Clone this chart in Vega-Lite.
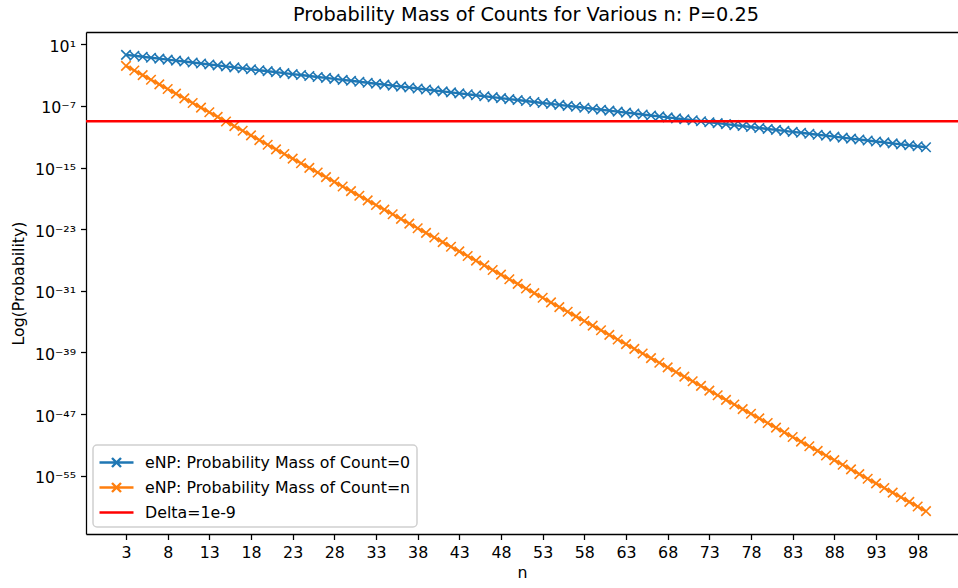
{
  "$schema": "https://vega.github.io/schema/vega-lite/v6.json",
  "width": 872,
  "height": 502,
  "autosize": {"type": "none"},
  "padding": {"left": 86, "top": 32, "right": 0, "bottom": 54},
  "background": "white",
  "title": {
    "text": "Probability Mass of Counts for Various n: P=0.25",
    "font": "DejaVu Sans",
    "fontSize": 19.3,
    "fontWeight": "normal",
    "color": "black",
    "baseline": "alphabetic",
    "offset": -8,
    "dx": 4
  },
  "datasets": {
    "main": [
      {"n":3,"Count=0":0.421875,"Count=n":0.015625},
      {"n":4,"Count=0":0.3164,"Count=n":0.00390625},
      {"n":5,"Count=0":0.2373,"Count=n":9.766e-4},
      {"n":6,"Count=0":0.178,"Count=n":2.441e-4},
      {"n":7,"Count=0":0.1335,"Count=n":6.104e-5},
      {"n":8,"Count=0":0.1001,"Count=n":1.526e-5},
      {"n":9,"Count=0":0.07508,"Count=n":3.815e-6},
      {"n":10,"Count=0":0.05631,"Count=n":9.537e-7},
      {"n":11,"Count=0":0.04224,"Count=n":2.384e-7},
      {"n":12,"Count=0":0.03168,"Count=n":5.96e-8},
      {"n":13,"Count=0":0.02376,"Count=n":1.49e-8},
      {"n":14,"Count=0":0.01782,"Count=n":3.725e-9},
      {"n":15,"Count=0":0.01336,"Count=n":9.313e-10},
      {"n":16,"Count=0":0.01002,"Count=n":2.328e-10},
      {"n":17,"Count=0":0.007517,"Count=n":5.821e-11},
      {"n":18,"Count=0":0.005638,"Count=n":1.455e-11},
      {"n":19,"Count=0":0.004228,"Count=n":3.638e-12},
      {"n":20,"Count=0":0.003171,"Count=n":9.095e-13},
      {"n":21,"Count=0":0.002378,"Count=n":2.274e-13},
      {"n":22,"Count=0":0.001784,"Count=n":5.684e-14},
      {"n":23,"Count=0":0.001338,"Count=n":1.421e-14},
      {"n":24,"Count=0":0.001003,"Count=n":3.553e-15},
      {"n":25,"Count=0":7.525e-4,"Count=n":8.882e-16},
      {"n":26,"Count=0":5.644e-4,"Count=n":2.22e-16},
      {"n":27,"Count=0":4.233e-4,"Count=n":5.551e-17},
      {"n":28,"Count=0":3.175e-4,"Count=n":1.388e-17},
      {"n":29,"Count=0":2.381e-4,"Count=n":3.469e-18},
      {"n":30,"Count=0":1.786e-4,"Count=n":8.674e-19},
      {"n":31,"Count=0":1.339e-4,"Count=n":2.168e-19},
      {"n":32,"Count=0":1.005e-4,"Count=n":5.421e-20},
      {"n":33,"Count=0":7.534e-5,"Count=n":1.355e-20},
      {"n":34,"Count=0":5.65e-5,"Count=n":3.388e-21},
      {"n":35,"Count=0":4.238e-5,"Count=n":8.47e-22},
      {"n":36,"Count=0":3.178e-5,"Count=n":2.118e-22},
      {"n":37,"Count=0":2.384e-5,"Count=n":5.294e-23},
      {"n":38,"Count=0":1.788e-5,"Count=n":1.323e-23},
      {"n":39,"Count=0":1.341e-5,"Count=n":3.309e-24},
      {"n":40,"Count=0":1.006e-5,"Count=n":8.272e-25},
      {"n":41,"Count=0":7.542e-6,"Count=n":2.068e-25},
      {"n":42,"Count=0":5.657e-6,"Count=n":5.17e-26},
      {"n":43,"Count=0":4.243e-6,"Count=n":1.292e-26},
      {"n":44,"Count=0":3.182e-6,"Count=n":3.231e-27},
      {"n":45,"Count=0":2.386e-6,"Count=n":8.078e-28},
      {"n":46,"Count=0":1.79e-6,"Count=n":2.019e-28},
      {"n":47,"Count=0":1.342e-6,"Count=n":5.049e-29},
      {"n":48,"Count=0":1.007e-6,"Count=n":1.262e-29},
      {"n":49,"Count=0":7.551e-7,"Count=n":3.155e-30},
      {"n":50,"Count=0":5.663e-7,"Count=n":7.889e-31},
      {"n":51,"Count=0":4.247e-7,"Count=n":1.972e-31},
      {"n":52,"Count=0":3.186e-7,"Count=n":4.93e-32},
      {"n":53,"Count=0":2.389e-7,"Count=n":1.233e-32},
      {"n":54,"Count=0":1.792e-7,"Count=n":3.081e-33},
      {"n":55,"Count=0":1.344e-7,"Count=n":7.704e-34},
      {"n":56,"Count=0":1.008e-7,"Count=n":1.926e-34},
      {"n":57,"Count=0":7.559e-8,"Count=n":4.815e-35},
      {"n":58,"Count=0":5.67e-8,"Count=n":1.204e-35},
      {"n":59,"Count=0":4.252e-8,"Count=n":3.009e-36},
      {"n":60,"Count=0":3.189e-8,"Count=n":7.523e-37},
      {"n":61,"Count=0":2.392e-8,"Count=n":1.881e-37},
      {"n":62,"Count=0":1.794e-8,"Count=n":4.702e-38},
      {"n":63,"Count=0":1.345e-8,"Count=n":1.175e-38},
      {"n":64,"Count=0":1.009e-8,"Count=n":2.939e-39},
      {"n":65,"Count=0":7.568e-9,"Count=n":7.347e-40},
      {"n":66,"Count=0":5.676e-9,"Count=n":1.837e-40},
      {"n":67,"Count=0":4.257e-9,"Count=n":4.592e-41},
      {"n":68,"Count=0":3.193e-9,"Count=n":1.148e-41},
      {"n":69,"Count=0":2.395e-9,"Count=n":2.87e-42},
      {"n":70,"Count=0":1.796e-9,"Count=n":7.175e-43},
      {"n":71,"Count=0":1.347e-9,"Count=n":1.794e-43},
      {"n":72,"Count=0":1.01e-9,"Count=n":4.484e-44},
      {"n":73,"Count=0":7.577e-10,"Count=n":1.121e-44},
      {"n":74,"Count=0":5.682e-10,"Count=n":2.803e-45},
      {"n":75,"Count=0":4.262e-10,"Count=n":7.006e-46},
      {"n":76,"Count=0":3.196e-10,"Count=n":1.752e-46},
      {"n":77,"Count=0":2.397e-10,"Count=n":4.379e-47},
      {"n":78,"Count=0":1.798e-10,"Count=n":1.095e-47},
      {"n":79,"Count=0":1.348e-10,"Count=n":2.737e-48},
      {"n":80,"Count=0":1.011e-10,"Count=n":6.842e-49},
      {"n":81,"Count=0":7.585e-11,"Count=n":1.711e-49},
      {"n":82,"Count=0":5.689e-11,"Count=n":4.276e-50},
      {"n":83,"Count=0":4.267e-11,"Count=n":1.069e-50},
      {"n":84,"Count=0":3.2e-11,"Count=n":2.673e-51},
      {"n":85,"Count=0":2.4e-11,"Count=n":6.682e-52},
      {"n":86,"Count=0":1.8e-11,"Count=n":1.67e-52},
      {"n":87,"Count=0":1.35e-11,"Count=n":4.176e-53},
      {"n":88,"Count=0":1.012e-11,"Count=n":1.044e-53},
      {"n":89,"Count=0":7.594e-12,"Count=n":2.61e-54},
      {"n":90,"Count=0":5.695e-12,"Count=n":6.525e-55},
      {"n":91,"Count=0":4.271e-12,"Count=n":1.631e-55},
      {"n":92,"Count=0":3.204e-12,"Count=n":4.078e-56},
      {"n":93,"Count=0":2.403e-12,"Count=n":1.02e-56},
      {"n":94,"Count=0":1.802e-12,"Count=n":2.549e-57},
      {"n":95,"Count=0":1.352e-12,"Count=n":6.372e-58},
      {"n":96,"Count=0":1.014e-12,"Count=n":1.593e-58},
      {"n":97,"Count=0":7.602e-13,"Count=n":3.983e-59},
      {"n":98,"Count=0":5.702e-13,"Count=n":9.957e-60},
      {"n":99,"Count=0":4.276e-13,"Count=n":2.489e-60}
    ],
    "delta": [{"series": "Delta=1e-9", "p": 1e-9}]
  },
  "layer": [
    {
      "data": {"name": "main"},
      "transform": [{"fold": ["Count=0", "Count=n"], "as": ["series", "p"]}],
      "mark": {"type": "line", "strokeWidth": 2.4, "clip": true},
      "encoding": {
        "x": {
          "field": "n", "type": "quantitative",
          "scale": {"domain": [-1.8, 102.84], "nice": false, "zero": false},
          "axis": {
            "values": [3,8,13,18,23,28,33,38,43,48,53,58,63,68,73,78,83,88,93,98],
            "title": "n", "grid": false, "orient": "bottom"
          }
        },
        "y": {
          "field": "p", "type": "quantitative",
          "scale": {"type": "log", "domain": [2.72e-63, 386], "nice": false, "zero": false},
          "axis": {
            "values": [10, 1e-7, 1e-15, 1e-23, 1e-31, 1e-39, 1e-47, 1e-55],
            "title": "Log(Probability)", "grid": false,
            "labelExpr": "round(log(datum.value)/LN10) == 1 ? '10¹' : round(log(datum.value)/LN10) == -7 ? '10⁻⁷' : round(log(datum.value)/LN10) == -15 ? '10⁻¹⁵' : round(log(datum.value)/LN10) == -23 ? '10⁻²³' : round(log(datum.value)/LN10) == -31 ? '10⁻³¹' : round(log(datum.value)/LN10) == -39 ? '10⁻³⁹' : round(log(datum.value)/LN10) == -47 ? '10⁻⁴⁷' : '10⁻⁵⁵'",
            "labelOffset": 2,
            "labelPadding": 5,
            "titlePadding": 8
          }
        },
        "color": {
          "field": "series", "type": "nominal",
          "scale": {"domain": ["Count=0", "Count=n", "Delta=1e-9"], "range": ["#1f77b4", "#ff7f0e", "#ff0000"]},
          "legend": {
            "orient": "bottom-left",
            "offset": 7,
            "title": null,
            "fillColor": "rgba(255,255,255,0.8)",
            "strokeColor": "#d0d0d0",
            "cornerRadius": 4,
            "padding": 6,
            "labelFont": "DejaVu Sans",
            "labelFontSize": 15.8,
            "labelColor": "black",
            "labelLimit": 0,
            "labelOffset": 17,
            "symbolSize": 400,
            "symbolOffset": 6,
            "rowPadding": 4,
            "labelExpr": "datum.label == 'Delta=1e-9' ? datum.label : 'eNP: Probability Mass of ' + datum.label",
            "encode": {
              "legend": {"update": {"strokeWidth": {"value": 1.5}}},
              "symbols": {
                "update": {
                  "shape": {"signal": "datum.value == 'Delta=1e-9' ? 'M-1.7,0L1.7,0' : 'M-1.7,0L1.7,0M-0.45,-0.45L0.45,0.45M-0.45,0.45L0.45,-0.45'"},
                  "stroke": {"scale": "color", "field": "value"},
                  "fill": {"value": "transparent"},
                  "strokeWidth": {"value": 2.4}
                }
              }
            }
          }
        }
      }
    },
    {
      "data": {"name": "main"},
      "transform": [{"fold": ["Count=0", "Count=n"], "as": ["series", "p"]}],
      "mark": {"type": "point", "shape": "M-1,-1L1,1M-1,1L1,-1", "filled": false, "size": 90, "strokeWidth": 1.6, "opacity": 1, "clip": true},
      "encoding": {
        "x": {
          "field": "n", "type": "quantitative",
          "axis": {"orient": "top", "labels": false, "ticks": false, "title": null, "grid": false, "domain": true}
        },
        "y": {"field": "p", "type": "quantitative"},
        "color": {"field": "series", "type": "nominal"}
      }
    },
    {
      "data": {"name": "delta"},
      "mark": {"type": "rule", "strokeWidth": 2.4},
      "encoding": {
        "y": {"field": "p", "type": "quantitative"},
        "color": {"field": "series", "type": "nominal"}
      }
    }
  ],
  "config": {
    "view": {"stroke": null},
    "font": "DejaVu Sans",
    "axis": {
      "domainColor": "black",
      "domainWidth": 1.27,
      "tickColor": "black",
      "tickWidth": 1.27,
      "tickSize": 5.5,
      "labelFont": "DejaVu Sans",
      "labelFontSize": 15.8,
      "labelColor": "black",
      "titleFont": "DejaVu Sans",
      "titleFontSize": 15.8,
      "titleFontWeight": "normal",
      "titleColor": "black"
    },
    "axisX": {"labelPadding": 6, "titlePadding": 5, "labelFlush": false, "labelOverlap": false},
    "axisY": {"labelOverlap": false}
  }
}
